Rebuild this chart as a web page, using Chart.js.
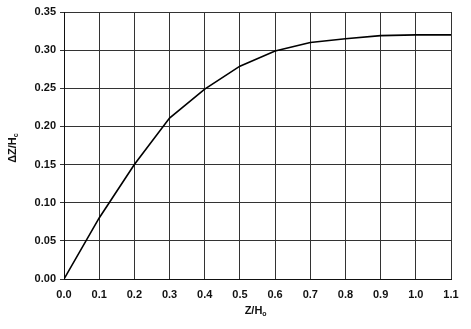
<!DOCTYPE html>
<html>
<head>
<meta charset="utf-8">
<script src="https://cdn.jsdelivr.net/npm/chart.js@4/dist/chart.umd.min.js"></script>
<style>
  html, body { margin: 0; padding: 0; background: #fff; }
  #wrap { width: 471px; height: 329px; position: relative; }
</style>
</head>
<body>
<div id="wrap"><canvas id="settle"></canvas></div>
<script>
// values
const zRatio = [0, 0.1, 0.2, 0.3, 0.4, 0.5, 0.6, 0.7, 0.8, 0.9, 1.0, 1.1];
const dzRatio = [0, 0.08, 0.15, 0.211, 0.249, 0.279, 0.299, 0.31, 0.315, 0.319, 0.32, 0.32];
const xTicks = [0, 0.1, 0.2, 0.3, 0.4, 0.5, 0.6, 0.7, 0.8, 0.9, 1.0, 1.1];
const yTicks = [0, 0.05, 0.10, 0.15, 0.20, 0.25, 0.30, 0.35];

const tickFont = { family: 'Liberation Sans, Arial, sans-serif', size: 11, weight: 'bold' };

// axis titles with subscripts, drawn on the canvas
const axisTitles = {
  id: 'axisTitles',
  afterDraw(chart) {
    const ctx = chart.ctx;
    const { left, right } = chart.chartArea;
    ctx.save();
    ctx.fillStyle = '#111';
    ctx.textBaseline = 'alphabetic';

    // x title
    ctx.font = 'bold 11px Liberation Sans, Arial, sans-serif';
    const main = 'Z/H';
    const w = ctx.measureText(main).width;
    const cx = (left + right) / 2 - 4;
    ctx.textAlign = 'left';
    ctx.fillText(main, cx - w / 2, 314);
    ctx.font = 'bold 7px Liberation Sans, Arial, sans-serif';
    ctx.fillText('o', cx + w / 2, 316);

    // y title
    ctx.translate(16, 148);
    ctx.rotate(-Math.PI / 2);
    ctx.font = 'bold 11px Liberation Sans, Arial, sans-serif';
    const ym = '\u0394Z/H';
    const yw = ctx.measureText(ym).width;
    ctx.fillText(ym, -yw / 2 - 2, 0);
    ctx.font = 'bold 7px Liberation Sans, Arial, sans-serif';
    ctx.fillText('c', yw / 2 - 2, 2);
    ctx.restore();
  }
};

new Chart('settle', {
  type: 'line',
  data: {
    datasets: [{
      data: zRatio.map((x, i) => ({ x: x, y: dzRatio[i] })),
      borderColor: '#000',
      borderWidth: 1.6,
      pointRadius: 0,
      tension: 0,
      fill: false
    }]
  },
  options: {
    responsive: true,
    maintainAspectRatio: false,
    animation: false,
    layout: { padding: { top: 12, right: 20, left: 0, bottom: 0 } },
    plugins: { legend: { display: false }, tooltip: { enabled: false } },
    scales: {
      x: {
        type: 'linear',
        min: 0,
        max: 1.1,
        afterBuildTicks: (axis) => { axis.ticks = xTicks.map(v => ({ value: v })); },
        afterFit: (axis) => { axis.height = 50; },
        ticks: {
          font: tickFont,
          color: '#111',
          padding: 9,
          maxRotation: 0,
          callback: (v) => v.toFixed(1)
        },
        grid: { color: '#333', lineWidth: 1, drawTicks: false },
        border: { color: '#111', width: 1 }
      },
      y: {
        min: 0,
        max: 0.35,
        afterBuildTicks: (axis) => { axis.ticks = yTicks.map(v => ({ value: v })); },
        afterFit: (axis) => { axis.width = 64; },
        ticks: {
          font: tickFont,
          color: '#111',
          padding: 4,
          callback: (v) => v.toFixed(2)
        },
        grid: { color: '#333', lineWidth: 1, tickLength: 4 },
        border: { color: '#111', width: 1 }
      }
    }
  },
  plugins: [axisTitles]
});
</script>
</body>
</html>
